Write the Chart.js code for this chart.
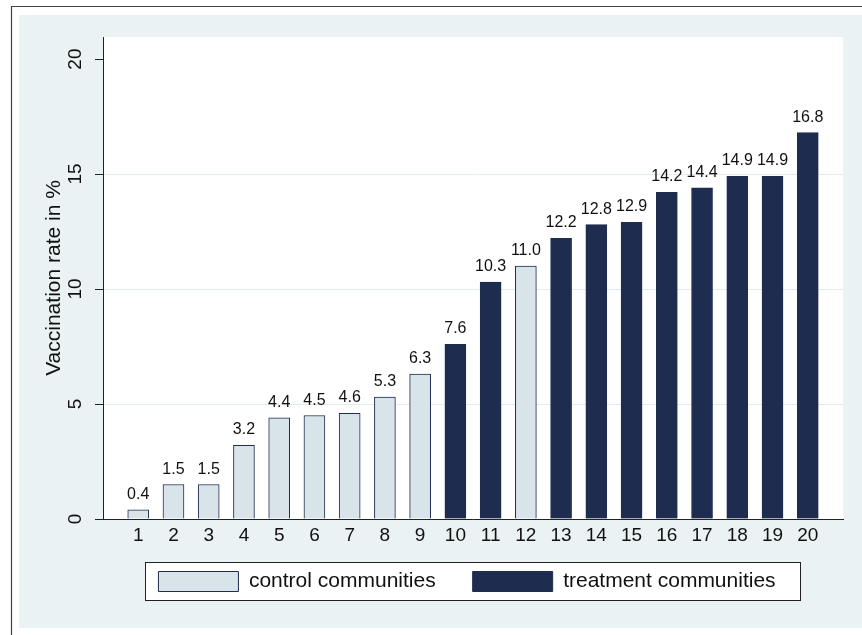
<!DOCTYPE html>
<html lang="en">
<head>
<meta charset="UTF-8">
<title>Vaccination rate by community</title>
<script src="https://cdn.jsdelivr.net/npm/chart.js"></script>
<style>
  body { margin: 0; overflow: hidden; background: #fff; }
  #wrap { width: 862px; height: 635px; }
</style>
</head>
<body>
<div id="wrap"><canvas id="chart"></canvas></div>
<script>
// values
const communities = [1, 2, 3, 4, 5, 6, 7, 8, 9, 10, 11, 12, 13, 14, 15, 16, 17, 18, 19, 20];
const rates = [0.4, 1.5, 1.5, 3.2, 4.4, 4.5, 4.6, 5.3, 6.3, 7.6, 10.3, 11.0, 12.2, 12.8, 12.9, 14.2, 14.4, 14.9, 14.9, 16.8];
const groups = ['control', 'control', 'control', 'control', 'control', 'control', 'control', 'control', 'control',
                'treatment', 'treatment', 'control', 'treatment', 'treatment', 'treatment', 'treatment',
                'treatment', 'treatment', 'treatment', 'treatment'];
const yTicks = [0, 5, 10, 15, 20];
const legendNames = { control: 'control communities', treatment: 'treatment communities' };

const FONT = '"Liberation Sans", Arial, Helvetica, sans-serif';
Chart.defaults.font.family = FONT;
Chart.defaults.color = '#111';

function pointsFor(g) {
    return communities
        .map((c, i) => ({ x: c, y: rates[i], g: groups[i] }))
        .filter(p => p.g === g);
}

// grey-blue page, outer frame, white plot region, legend box
const backdrop = {
    id: 'backdrop',
    afterLayout(chart) {
        // pull the legend up under the axis labels, a bit left like the original
        const lg = chart.legend;
        lg.top -= 15; lg.bottom -= 15;
        lg.left -= 6; lg.right -= 6;
    },
    beforeDraw(chart) {
        const ctx = chart.ctx, a = chart.chartArea;
        ctx.save();
        ctx.fillStyle = '#fff';
        ctx.fillRect(0, 0, chart.width, chart.height);
        ctx.fillStyle = '#eaf2f3';
        ctx.fillRect(19, 15, chart.width - 19, 613);
        ctx.strokeStyle = '#444';
        ctx.lineWidth = 1.2;
        ctx.beginPath();
        ctx.moveTo(11.5, chart.height);
        ctx.lineTo(11.5, 6.5);
        ctx.lineTo(chart.width, 6.5);
        ctx.stroke();
        ctx.fillStyle = '#fff';
        ctx.fillRect(a.left, a.top, a.right - a.left, a.bottom - a.top);

        const boxes = chart.legend.legendHitBoxes;
        if (boxes && boxes.length) {
            const first = boxes[0], last = boxes[boxes.length - 1];
            const x0 = Math.round(first.left - 13) + 0.5;
            const x1 = Math.round(last.left + last.width + 24) + 0.5;
            const y0 = Math.round(first.top - 9) + 0.5;
            const y1 = Math.round(first.top + first.height + 8) + 0.5;
            ctx.fillStyle = '#fff';
            ctx.fillRect(x0, y0, x1 - x0, y1 - y0);
            ctx.strokeStyle = '#222';
            ctx.lineWidth = 1;
            ctx.strokeRect(x0, y0, x1 - x0, y1 - y0);
        }
        ctx.restore();
    }
};

// numbers above the bars
const barValues = {
    id: 'barValues',
    afterDatasetsDraw(chart) {
        const ctx = chart.ctx;
        ctx.save();
        ctx.font = '16px ' + FONT;
        ctx.fillStyle = '#111';
        ctx.textAlign = 'center';
        ctx.textBaseline = 'alphabetic';
        chart.data.datasets.forEach((ds, di) => {
            chart.getDatasetMeta(di).data.forEach((bar, i) => {
                ctx.fillText(ds.data[i].y.toFixed(1), bar.x, bar.y - 11);
            });
        });
        ctx.restore();
    }
};

const ctx = document.getElementById('chart').getContext('2d');
new Chart(ctx, {
    type: 'bar',
    data: {
        datasets: [{
            label: legendNames.control,
            data: pointsFor('control'),
            backgroundColor: '#d8e3ea',
            borderColor: '#1e2c50',
            borderWidth: 1,
            borderSkipped: 'start',
            barThickness: 21,
            grouped: false
        }, {
            label: legendNames.treatment,
            data: pointsFor('treatment'),
            backgroundColor: '#1e2c50',
            borderColor: '#1e2c50',
            borderWidth: 1,
            borderSkipped: 'start',
            barThickness: 21,
            grouped: false
        }]
    },
    options: {
        responsive: true,
        maintainAspectRatio: false,
        animation: false,
        layout: { padding: { top: 37, right: 19, bottom: 18, left: 0 } },
        plugins: {
            tooltip: { enabled: false },
            legend: {
                position: 'bottom',
                fullSize: false,
                onClick: null,
                labels: {
                    boxWidth: 80,
                    boxHeight: 20,
                    padding: 37,
                    color: '#111',
                    font: { size: 21 }
                }
            }
        },
        scales: {
            x: {
                type: 'linear',
                offset: false,
                min: 0,
                max: 21,
                afterBuildTicks: s => { s.ticks = communities.map(v => ({ value: v })); },
                afterFit: s => { s.height = 30; },
                grid: { display: false, drawTicks: false, offset: false },
                border: { display: true, color: '#222', width: 1 },
                ticks: {
                    autoSkip: false,
                    maxRotation: 0,
                    padding: 5,
                    color: '#111',
                    font: { size: 19 }
                }
            },
            y: {
                min: 0,
                max: 20.96,
                afterBuildTicks: s => { s.ticks = yTicks.map(v => ({ value: v })); },
                afterFit: s => { s.width = 103; },
                grid: {
                    color: c => (c.tick && c.tick.value % 20 === 0) ? 'rgba(0,0,0,0)' : '#e2ebee',
                    tickColor: '#222',
                    tickLength: 8,
                    lineWidth: 1
                },
                border: { display: true, color: '#222', width: 1 },
                ticks: {
                    minRotation: 90,
                    maxRotation: 90,
                    crossAlign: 'center',
                    padding: 9,
                    color: '#111',
                    font: { size: 19 }
                },
                title: {
                    display: true,
                    text: 'Vaccination rate in %',
                    color: '#111',
                    font: { size: 21 },
                    padding: { top: 42, bottom: 0 }
                }
            }
        }
    },
    plugins: [backdrop, barValues]
});
</script>
</body>
</html>
